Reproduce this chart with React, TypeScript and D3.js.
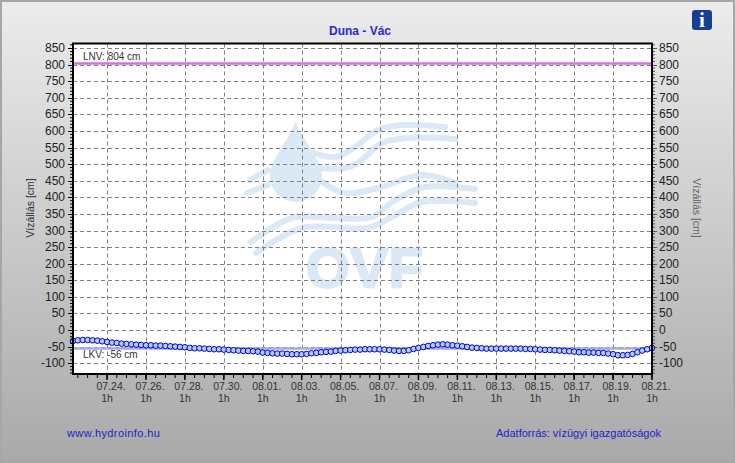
import * as d3 from "d3";
import React, { useRef, useEffect } from "react";

const WIDTH = 735;
const HEIGHT = 463;

const levels = [
  -33, -31, -30, -30, -31, -32, -34, -36,
  -38, -39, -41, -42, -43, -44, -45, -46,
  -46, -47, -47, -48, -49, -50, -51, -52,
  -54, -55, -55, -56, -57, -58, -58, -59,
  -60, -61, -62, -63, -63, -64, -65, -68,
  -69, -70, -71, -71, -72, -73, -73, -73,
  -72, -70, -69, -67, -66, -65, -63, -62,
  -61, -60, -59, -59, -58, -58, -58, -58,
  -59, -60, -62, -63, -63, -61, -57, -54,
  -51, -48, -46, -44, -43, -44, -46, -47,
  -49, -51, -53, -54, -55, -56, -56, -56,
  -56, -56, -56, -56, -56, -57, -57, -58,
  -59, -60, -60, -61, -62, -63, -64, -65,
  -67, -67, -68, -68, -69, -69, -71, -73,
  -76, -76, -75, -72, -67, -62, -58, -54,
];

const yTicks = [
  850, 800, 750, 700, 650, 600, 550, 500, 450, 400, 350, 300, 250, 200, 150,
  100, 50, 0, -50, -100,
];
const dateTicks = [
  "07.24.", "07.26.", "07.28.", "07.30.", "08.01.", "08.03.", "08.05.", "08.07.",
  "08.09.", "08.11.", "08.13.", "08.15.", "08.17.", "08.19.", "08.21.",
];

const lnv = 804;
const lkv = -56;

// logo behind the grid, page coordinates
const logoWaves = [
  [[314, 153], [335, 157], [355, 147], [378, 130], [402, 125], [445, 127]],
  [[318, 168], [345, 168], [358, 163], [382, 143], [408, 138], [455, 139]],
  [[250, 180], [268, 170]],
  [[247, 193], [268, 185]],
  [[322, 182], [345, 193], [378, 188], [422, 175], [455, 183]],
  [[251, 242], [292, 218], [335, 218], [372, 217], [395, 200], [425, 187], [475, 189]],
  [[256, 253], [302, 228], [368, 228], [392, 217], [422, 202], [475, 203]],
];

const parseTick = (label: string) => {
  const [m, d] = label.split(".").map(Number);
  return new Date(Date.UTC(2024, m - 1, d, 1));
};

const App: React.FC = () => {
  const svgRef = useRef<SVGSVGElement>(null);

  useEffect(() => {
    if (!svgRef.current) return;
    const svg = d3.select(svgRef.current);
    svg.selectAll("*").remove();

    const left = 73;
    const right = 652;
    const top = 43.5;
    const bottom = 374;

    const start = new Date(Date.UTC(2024, 6, 22, 7));
    const end = new Date(Date.UTC(2024, 7, 21, 1));
    const x = d3.scaleUtc().domain([start, end]).range([left, right]);
    const y = d3.scaleLinear().domain([-132.6, 864]).range([bottom, top]);

    const defs = svg.append("defs");
    const grad = defs
      .append("linearGradient")
      .attr("id", "bg")
      .attr("x1", 0)
      .attr("y1", 0)
      .attr("x2", 0)
      .attr("y2", 1);
    grad.append("stop").attr("offset", "0%").attr("stop-color", "#ececec");
    grad.append("stop").attr("offset", "100%").attr("stop-color", "#a9a9a9");

    svg
      .append("rect")
      .attr("x", 1)
      .attr("y", 1)
      .attr("width", WIDTH - 2)
      .attr("height", HEIGHT - 2)
      .attr("fill", "url(#bg)")
      .attr("stroke", "#a6a6a6")
      .attr("stroke-width", 2);

    svg
      .append("rect")
      .attr("x", left)
      .attr("y", top)
      .attr("width", right - left)
      .attr("height", bottom - top)
      .attr("fill", "#fff");

    // OVF logo
    const logo = svg.append("g").attr("fill", "#dbe8f5");
    logo
      .append("path")
      .attr("d", "M295.7 121 C291 138 270 158 270 176 A26 26 0 0 0 322 176 C322 158 300 138 295.7 121 Z");
    const waveLine = d3.line().curve(d3.curveCatmullRom);
    logo
      .selectAll("path.wave")
      .data(logoWaves)
      .enter()
      .append("path")
      .attr("class", "wave")
      .attr("d", (d) => waveLine(d as [number, number][]))
      .attr("fill", "none")
      .attr("stroke", "#dbe8f5")
      .attr("stroke-width", 6)
      .attr("stroke-linecap", "round");
    logo
      .append("text")
      .attr("x", 365)
      .attr("y", 287)
      .attr("text-anchor", "middle")
      .attr("font-family", "Liberation Sans")
      .attr("font-weight", "bold")
      .attr("font-size", 56)
      .attr("stroke", "#dbe8f5")
      .attr("stroke-width", 2.5)
      .attr("letter-spacing", 1)
      .text("OVF");

    // grid
    const grid = svg
      .append("g")
      .attr("stroke", "#808080")
      .attr("stroke-width", 1)
      .attr("stroke-dasharray", "4 3");
    grid
      .selectAll("line.h")
      .data(yTicks)
      .enter()
      .append("line")
      .attr("class", "h")
      .attr("x1", left)
      .attr("x2", right)
      .attr("y1", (d) => Math.round(y(d)) + 0.5)
      .attr("y2", (d) => Math.round(y(d)) + 0.5);
    grid
      .selectAll("line.v")
      .data(dateTicks)
      .enter()
      .append("line")
      .attr("class", "v")
      .attr("y1", top)
      .attr("y2", bottom)
      .attr("x1", (d) => Math.round(x(parseTick(d))) + 0.5)
      .attr("x2", (d) => Math.round(x(parseTick(d))) + 0.5);

    // limit lines
    svg
      .append("line")
      .attr("x1", left)
      .attr("x2", right)
      .attr("y1", y(lnv))
      .attr("y2", y(lnv))
      .attr("stroke", "#d86ee6")
      .attr("stroke-width", 2.5);
    svg
      .append("line")
      .attr("x1", left)
      .attr("x2", right)
      .attr("y1", y(lkv))
      .attr("y2", y(lkv))
      .attr("stroke", "#a8a8ee")
      .attr("stroke-width", 2.5);

    const labelFont = "Liberation Sans, Arial, sans-serif";
    svg
      .append("text")
      .attr("x", 83)
      .attr("y", 60)
      .attr("font-family", labelFont)
      .attr("font-size", 10)
      .attr("fill", "#333")
      .text(`LNV: ${lnv} cm`);
    svg
      .append("text")
      .attr("x", 83)
      .attr("y", 358)
      .attr("font-family", labelFont)
      .attr("font-size", 10)
      .attr("fill", "#333")
      .text(`LKV: ${lkv} cm`);

    // series
    const points = levels.map((v, i) => ({
      t: new Date(start.getTime() + i * 6 * 3600 * 1000),
      v,
    }));
    svg
      .append("g")
      .selectAll("circle")
      .data(points)
      .enter()
      .append("circle")
      .attr("cx", (d) => x(d.t))
      .attr("cy", (d) => y(d.v))
      .attr("r", 2.8)
      .attr("fill", "#b4ccf5")
      .attr("stroke", "#0000c8")
      .attr("stroke-width", 1);

    // axes
    const minorY = d3.range(-130, 861, 10).filter((d) => d % 50 !== 0);
    const axisLeft = svg.append("g").attr("stroke", "#000");
    axisLeft
      .selectAll("line.minor")
      .data(minorY)
      .enter()
      .append("line")
      .attr("x1", left - 3)
      .attr("x2", left)
      .attr("y1", (d) => y(d))
      .attr("y2", (d) => y(d));
    axisLeft
      .selectAll("line.major")
      .data(yTicks)
      .enter()
      .append("line")
      .attr("x1", left - 5)
      .attr("x2", left)
      .attr("y1", (d) => Math.round(y(d)) + 0.5)
      .attr("y2", (d) => Math.round(y(d)) + 0.5);
    const axisRight = svg.append("g").attr("stroke", "#555");
    axisRight
      .selectAll("line.minor")
      .data(minorY)
      .enter()
      .append("line")
      .attr("x1", right)
      .attr("x2", right + 3)
      .attr("y1", (d) => y(d))
      .attr("y2", (d) => y(d));
    axisRight
      .selectAll("line.major")
      .data(yTicks)
      .enter()
      .append("line")
      .attr("x1", right)
      .attr("x2", right + 5)
      .attr("y1", (d) => Math.round(y(d)) + 0.5)
      .attr("y2", (d) => Math.round(y(d)) + 0.5);

    const halfDays = d3.utcHour.range(
      new Date(Date.UTC(2024, 6, 22, 13)),
      new Date(Date.UTC(2024, 7, 21, 2)),
      12,
    );
    svg
      .append("g")
      .selectAll("line")
      .data(halfDays)
      .enter()
      .append("line")
      .attr("x1", (d) => x(d))
      .attr("x2", (d) => x(d))
      .attr("y1", bottom)
      .attr("y2", bottom + 4)
      .attr("stroke", "#000");
    svg
      .append("g")
      .selectAll("line")
      .data(dateTicks)
      .enter()
      .append("line")
      .attr("x1", (d) => x(parseTick(d)))
      .attr("x2", (d) => x(parseTick(d)))
      .attr("y1", bottom)
      .attr("y2", bottom + 6)
      .attr("stroke", "#000")
      .attr("stroke-width", 1.5);

    svg
      .append("rect")
      .attr("x", left)
      .attr("y", top)
      .attr("width", right - left)
      .attr("height", bottom - top)
      .attr("fill", "none")
      .attr("stroke", "#000")
      .attr("stroke-width", 2);

    // tick labels
    const tickText = svg
      .append("g")
      .attr("font-family", labelFont)
      .attr("font-size", 12)
      .attr("fill", "#222");
    tickText
      .selectAll("text.l")
      .data(yTicks)
      .enter()
      .append("text")
      .attr("class", "l")
      .attr("x", 65)
      .attr("y", (d) => y(d) + 4)
      .attr("text-anchor", "end")
      .text((d) => d);
    tickText
      .selectAll("text.r")
      .data(yTicks)
      .enter()
      .append("text")
      .attr("class", "r")
      .attr("x", 659)
      .attr("y", (d) => y(d) + 4)
      .text((d) => d);

    const dateText = svg
      .append("g")
      .attr("font-family", labelFont)
      .attr("font-size", 10.5)
      .attr("fill", "#333")
      .attr("text-anchor", "middle");
    dateText
      .selectAll("text.d")
      .data(dateTicks)
      .enter()
      .append("text")
      .attr("class", "d")
      .attr("x", (d) => x(parseTick(d)) + 4)
      .attr("y", 390)
      .text((d) => d);
    dateText
      .selectAll("text.h")
      .data(dateTicks)
      .enter()
      .append("text")
      .attr("class", "h")
      .attr("x", (d) => x(parseTick(d)))
      .attr("y", 402)
      .text("1h");

    // titles
    svg
      .append("text")
      .attr("x", 360)
      .attr("y", 34.5)
      .attr("text-anchor", "middle")
      .attr("font-family", labelFont)
      .attr("font-size", 12)
      .attr("font-weight", "bold")
      .attr("fill", "#2a2ad0")
      .text("Duna - Vác");
    svg
      .append("text")
      .attr("transform", "translate(34,208) rotate(-90)")
      .attr("text-anchor", "middle")
      .attr("font-family", labelFont)
      .attr("font-size", 10.5)
      .attr("fill", "#333")
      .text("Vízállás [cm]");
    svg
      .append("text")
      .attr("transform", "translate(693,208) rotate(90)")
      .attr("text-anchor", "middle")
      .attr("font-family", labelFont)
      .attr("font-size", 10.5)
      .attr("fill", "#666")
      .text("Vízállás [cm]");

    svg
      .append("text")
      .attr("x", 67)
      .attr("y", 437)
      .attr("font-family", labelFont)
      .attr("font-size", 11)
      .attr("letter-spacing", 0.4)
      .attr("fill", "#2222cc")
      .text("www.hydroinfo.hu");
    svg
      .append("text")
      .attr("x", 496)
      .attr("y", 437)
      .attr("font-family", labelFont)
      .attr("font-size", 11)
      .attr("fill", "#2222cc")
      .text("Adatforrás: vízügyi igazgatóságok");

    // info icon
    svg
      .append("rect")
      .attr("x", 692)
      .attr("y", 10)
      .attr("width", 20)
      .attr("height", 20)
      .attr("rx", 3)
      .attr("fill", "#163f94");
    svg
      .append("text")
      .attr("x", 702)
      .attr("y", 27)
      .attr("text-anchor", "middle")
      .attr("font-family", "Liberation Serif, serif")
      .attr("font-weight", "bold")
      .attr("font-size", 21)
      .attr("fill", "#fff")
      .text("i");
  }, []);

  return (
    <svg
      ref={svgRef}
      width={WIDTH}
      height={HEIGHT}
      style={{ position: "absolute", left: 0, top: 0, display: "block" }}
    ></svg>
  );
};

export default App;
